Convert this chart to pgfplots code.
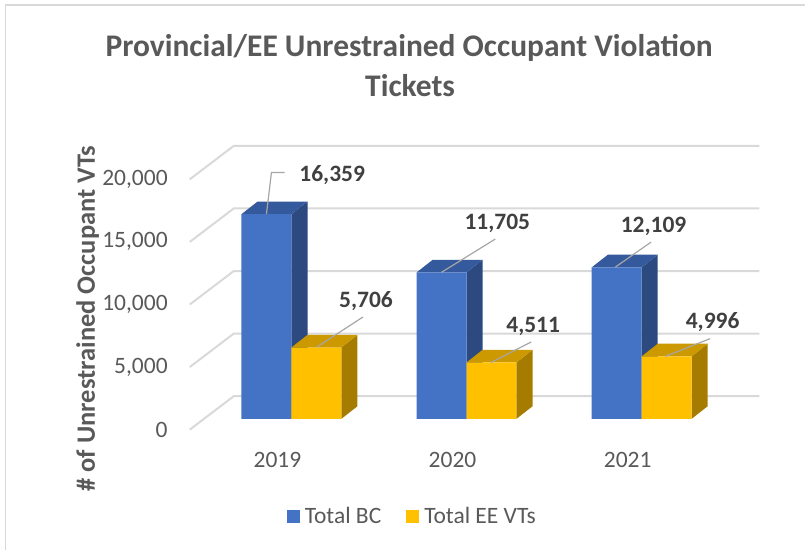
\documentclass[border=0pt]{standalone}
\usepackage{pgfplots}
\pgfplotsset{compat=1.18}
\usepackage{fontspec}
\setmainfont{Carlito}
\definecolor{bcfront}{HTML}{4472C4}
\definecolor{bctop}{HTML}{34599C}
\definecolor{bcside}{HTML}{2C4A80}
\definecolor{eefront}{HTML}{FFC000}
\definecolor{eetop}{HTML}{CC9A00}
\definecolor{eeside}{HTML}{A67C00}
\definecolor{txt}{HTML}{595959}
\definecolor{lbl}{HTML}{404040}
\definecolor{gridc}{HTML}{D9D9D9}
\definecolor{leader}{HTML}{A6A6A6}
\begin{document}
\begin{tikzpicture}[x=1pt,y=1pt]
\path (0,0) rectangle (806,551);
\draw[gridc, line width=1.5pt] (5.5,0) -- (5.5,546) -- (806,546);
% title
\node[anchor=base, font=\fontsize{31.5}{38}\selectfont\bfseries, text=txt, inner sep=0pt] at (409.5,494) {Provincial/EE Unrestrained Occupant Violation};
\node[anchor=base, font=\fontsize{31.5}{38}\selectfont\bfseries, text=txt, inner sep=0pt] at (410.5,454.5) {Tickets};
% y label
\node[rotate=90, anchor=base, font=\fontsize{26.5}{32}\selectfont\bfseries, text=txt, inner sep=0pt] at (95,232) {\# of Unrestrained Occupant VTs};
\begin{axis}[
  at={(190pt,121pt)}, anchor=south west,
  scale only axis, width=570pt, height=284pt,
  xmin=-0.580, xmax=2.672, ymin=-854, ymax=21818,
  clip=false,
  scaled y ticks=false,
  axis line style={draw=none},
  major tick length=0pt,
  tick style={draw=none},
  ytick={-854,4146,9146,14146,19146},
  yticklabels={0,{5,000},{10,000},{15,000},{20,000}},
  xtick={-0.0799,0.9202,1.9203},
  xticklabels={2019,2020,2021},
  tick label style={font=\fontsize{23.5}{28}\selectfont, text=txt, inner sep=0pt},
  yticklabel style={anchor=east, xshift=-22pt},
  xticklabel style={anchor=north, yshift=-22pt},
  legend columns=2,
  legend style={at={(0.389,-0.306)}, anchor=center, draw=none, fill=none,
    font=\fontsize{23.5}{28}\selectfont, text=txt,
    nodes={inner sep=0pt},
    column sep=5pt,
    /tikz/every even column/.append style={column sep=25pt},
    inner sep=0pt},
]
% 3D grid: back wall and slanted floor-wall lines
\foreach \v in {0,5000,10000,15000,20000}{
  \edef\tmp{\noexpand\draw[gridc, line width=2pt] (axis cs:-0.580,\v-854) -- (axis cs:-0.329,\v+1818) -- (axis cs:2.672,\v+1818);}
  \tmp
}
% Total BC: side and top faces
\addplot[fill=bcside, draw=none, forget plot] coordinates {(0,0) (0.092,1010) (0.092,17369) (0,16359)};
\addplot[fill=bcside, draw=none, forget plot] coordinates {(1,0) (1.092,1010) (1.092,12715) (1,11705)};
\addplot[fill=bcside, draw=none, forget plot] coordinates {(2,0) (2.092,1010) (2.092,13119) (2,12109)};
\addplot[fill=bctop, draw=none, forget plot] coordinates {(-0.285,16359) (-0.193,17369) (0.092,17369) (0,16359)};
\addplot[fill=bctop, draw=none, forget plot] coordinates {(0.715,11705) (0.807,12715) (1.092,12715) (1,11705)};
\addplot[fill=bctop, draw=none, forget plot] coordinates {(1.715,12109) (1.807,13119) (2.092,13119) (2,12109)};
% Total BC: front faces
\addplot[ybar, bar width=0.285, bar shift=-0.1425, fill=bcfront, draw=none,
  legend image code/.code={\fill[bcfront] (0pt,-6.5pt) rectangle (13pt,6.5pt);}]
  coordinates {(0,16359) (1,11705) (2,12109)};
\addlegendentry{Total BC}
% Total EE: side and top faces
\addplot[fill=eeside, draw=none, forget plot] coordinates {(0.285,0) (0.377,1010) (0.377,6716) (0.285,5706)};
\addplot[fill=eeside, draw=none, forget plot] coordinates {(1.285,0) (1.377,1010) (1.377,5521) (1.285,4511)};
\addplot[fill=eeside, draw=none, forget plot] coordinates {(2.285,0) (2.377,1010) (2.377,6006) (2.285,4996)};
\addplot[fill=eetop, draw=none, forget plot] coordinates {(0,5706) (0.092,6716) (0.377,6716) (0.285,5706)};
\addplot[fill=eetop, draw=none, forget plot] coordinates {(1,4511) (1.092,5521) (1.377,5521) (1.285,4511)};
\addplot[fill=eetop, draw=none, forget plot] coordinates {(2,4996) (2.092,6006) (2.377,6006) (2.285,4996)};
% Total EE: front faces
\addplot[ybar, bar width=0.285, bar shift=0.1425, fill=eefront, draw=none,
  legend image code/.code={\fill[eefront] (0pt,-6.5pt) rectangle (13pt,6.5pt);}]
  coordinates {(0,5706) (1,4511) (2,4996)};
\addlegendentry{Total EE VTs}
\end{axis}
% leader lines
\draw[leader, line width=1.2pt] (266.7,336.7) -- (271.7,378.3) -- (285,378.3);
\draw[leader, line width=1.2pt] (317.3,203.7) -- (363.3,233.7);
\draw[leader, line width=1.2pt] (441.7,278.3) -- (495.7,311.7);
\draw[leader, line width=1.2pt] (491.7,188.3) -- (531.7,208.7);
\draw[leader, line width=1.2pt] (616,283.7) -- (651.7,308.7);
\draw[leader, line width=1.2pt] (666,194.3) -- (710.7,212);
% data labels
\begin{scope}[every node/.style={anchor=base, inner sep=0pt, text=lbl, font=\fontsize{23.5}{28}\selectfont\bfseries}]
\node at (332.5,369.3) {16,359};
\node at (366.3,243.6) {5,706};
\node at (497.8,321.3) {11,705};
\node at (533.7,218.6) {4,511};
\node at (654.2,317.9) {12,109};
\node at (713.3,222.6) {4,996};
\end{scope}
\end{tikzpicture}
\end{document}
